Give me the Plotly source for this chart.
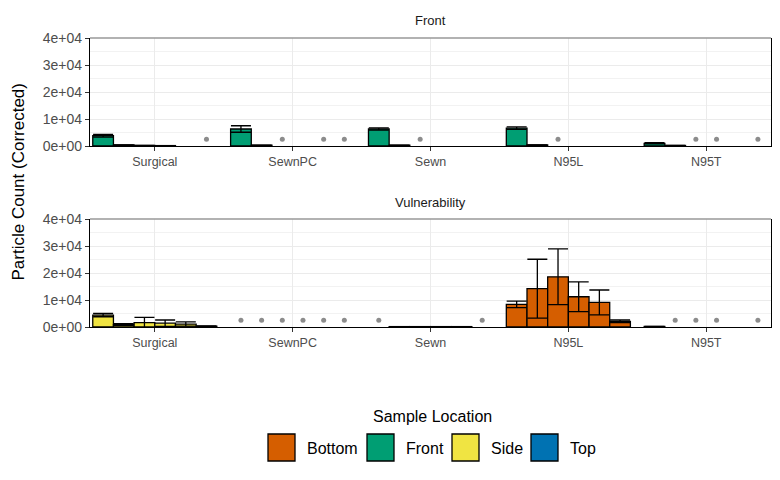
import plotly.graph_objects as go

# ---------------- data ----------------
categories = ["Surgical", "SewnPC", "Sewn", "N95L", "N95T"]
size_bins = ["b1", "b2", "b3", "b4", "b5", "b6"]          # dodged groups within each mask
locations = ["Bottom", "Front", "Side", "Top"]
loc_colors = ["#D55E00", "#009E73", "#F0E442", "#0072B2"]
ytick_vals = [0, 10000, 20000, 30000, 40000]
ytick_text = ["0e+00", "1e+04", "2e+04", "3e+04", "4e+04"]
panels = ["Front", "Vulnerability"]

N = None
# Front panel: mean and sd per mask (rows) and size bin (cols); None = missing (grey dot), 0 = no bar
front_mean = [
    [3800, 400, 200, 150, 0, N],
    [6300, 300, N, 0, N, N],
    [6300, 300, N, 0, 0, 0],
    [6600, 400, N, 0, 0, 0],
    [1000, 200, N, N, 0, N],
]
front_sd = [
    [500, 0, 0, 0, 0, N],
    [1200, 0, N, 0, N, N],
    [400, 0, N, 0, 0, 0],
    [450, 0, N, 0, 0, 0],
    [200, 0, N, N, 0, N],
]
front_loc = ["Front", "Front", "Front", "Front", "Front"]

vuln_mean = [
    [4400, 900, 1600, 1400, 1100, 300],
    [N, N, N, N, N, N],
    [N, 150, 150, 150, 150, N],
    [8400, 14200, 18600, 11200, 9100, 2100],
    [200, N, N, N, 0, N],
]
vuln_sd = [
    [600, 300, 2000, 1200, 800, 100],
    [N, N, N, N, N, N],
    [N, 0, 0, 0, 0, N],
    [1200, 10900, 10300, 5500, 4600, 500],
    [0, N, N, N, 0, N],
]
vuln_loc = ["Side", "Side", "Bottom", "Bottom", "Bottom"]

missing_marker_y = 2500

# ---------------- layout constants ----------------
W, H = 780, 480
PL, PR = 90, 771          # panel left/right px
TOP1, BOT1 = 38, 146      # Front panel
TOP2, BOT2 = 219, 327     # Vulnerability panel
dodge = 0.9
bw = dodge / len(size_bins)

def pxx(px):
    return (px - PL) / (PR - PL)

def pxy(py):
    return (BOT2 - py) / (BOT2 - TOP1)

font = "Liberation Sans, Arial, sans-serif"
fig = go.Figure()

panel_data = [(front_mean, front_sd, front_loc), (vuln_mean, vuln_sd, vuln_loc)]
for p, (means, sds, locs) in enumerate(panel_data):
    xa = "x" if p == 0 else "x2"
    ya = "y" if p == 0 else "y2"
    bx, by, be, bc = [], [], [], []
    dx, dy = [], []
    for i, cat in enumerate(categories):
        for j in range(len(size_bins)):
            xpos = i + (j - (len(size_bins) - 1) / 2) * bw
            m = means[i][j]
            if m is None:
                dx.append(xpos)
                dy.append(missing_marker_y)
            elif m > 0:
                bx.append(xpos)
                by.append(m)
                be.append(sds[i][j])
                bc.append(loc_colors[locations.index(locs[i])])
    fig.add_trace(go.Bar(
        x=bx, y=by, width=bw, xaxis=xa, yaxis=ya,
        marker=dict(color=bc, line=dict(color="black", width=1.3)),
        error_y=dict(type="data", array=be, visible=True, color="black",
                     thickness=1.3, width=10),
        showlegend=False, hoverinfo="skip"))
    fig.add_trace(go.Scatter(
        x=dx, y=dy, mode="markers", xaxis=xa, yaxis=ya,
        marker=dict(color="#8c8c8c", size=5), showlegend=False, hoverinfo="skip"))

axis_x = dict(range=[-0.47, len(categories) - 1 + 0.47], tickmode="array",
              tickvals=list(range(len(categories))), ticktext=categories,
              showgrid=True, gridcolor="#EBEBEB", gridwidth=1,
              showline=True, linecolor="black", linewidth=1.3,
              ticks="outside", ticklen=4, tickcolor="#333333", tickwidth=1,
              tickfont=dict(family=font, size=12.5, color="#4D4D4D"),
              zeroline=False, fixedrange=True, automargin=False)
axis_y = dict(range=[0, 40000], tickmode="array", tickvals=ytick_vals, ticktext=ytick_text,
              showgrid=True, gridcolor="#EBEBEB", gridwidth=1,
              minor=dict(dtick=5000, tick0=0, showgrid=True, gridcolor="#F2F2F2", gridwidth=0.6),
              showline=True, linecolor="black", linewidth=1.3, mirror=True,
              ticks="outside", ticklen=4, tickcolor="#333333", tickwidth=1,
              tickfont=dict(family=font, size=14, color="#4D4D4D"),
              zeroline=False, fixedrange=True, automargin=False)

fig.update_layout(
    width=W, height=H,
    margin=dict(l=PL, r=W - PR, t=TOP1, b=H - BOT2, autoexpand=False),
    plot_bgcolor="white", paper_bgcolor="white",
    barmode="overlay",
    xaxis=dict(axis_x, anchor="y", domain=[0, 1]),
    yaxis=dict(axis_y, anchor="x", domain=[pxy(BOT1), 1]),
    xaxis2=dict(axis_x, anchor="y2", domain=[0, 1]),
    yaxis2=dict(axis_y, anchor="x2", domain=[0, pxy(TOP2)]),
    font=dict(family=font),
)

shapes = []
annotations = []
# grey top borders of panels
for top in (TOP1, TOP2):
    shapes.append(dict(type="line", xref="paper", yref="paper", x0=0, x1=1,
                       y0=pxy(top), y1=pxy(top), line=dict(color="#999999", width=1.5)))
# strip titles
for name, top in zip(panels, (TOP1, TOP2)):
    annotations.append(dict(text=name, xref="paper", yref="paper", x=0.5, y=pxy(top - 17),
                            showarrow=False, xanchor="center", yanchor="middle",
                            font=dict(family=font, size=13, color="#1A1A1A")))
# y-axis title
annotations.append(dict(text="Particle Count (Corrected)", xref="paper", yref="paper",
                        x=pxx(18), y=pxy((TOP1 + BOT2) / 2), textangle=-90, showarrow=False,
                        xanchor="center", yanchor="middle",
                        font=dict(family=font, size=17, color="black")))
# legend (manual)
annotations.append(dict(text="Sample Location", xref="paper", yref="paper", x=pxx(432),
                        y=pxy(417), showarrow=False, xanchor="center", yanchor="middle",
                        font=dict(family=font, size=16, color="black")))
key_left = [268, 367, 452, 531]
for loc, col, kx in zip(locations, loc_colors, key_left):
    shapes.append(dict(type="rect", xref="paper", yref="paper",
                       x0=pxx(kx), x1=pxx(kx + 27), y0=pxy(461), y1=pxy(434),
                       fillcolor=col, line=dict(color="black", width=1.3)))
    annotations.append(dict(text=loc, xref="paper", yref="paper", x=pxx(kx + 37), y=pxy(448),
                            showarrow=False, xanchor="left", yanchor="middle",
                            font=dict(family=font, size=16, color="black")))

fig.update_layout(shapes=shapes, annotations=annotations)
fig.write_html("out.html", config={"displayModeBar": False},
               post_script="document.body.style.margin='0';document.body.style.padding='0';")
